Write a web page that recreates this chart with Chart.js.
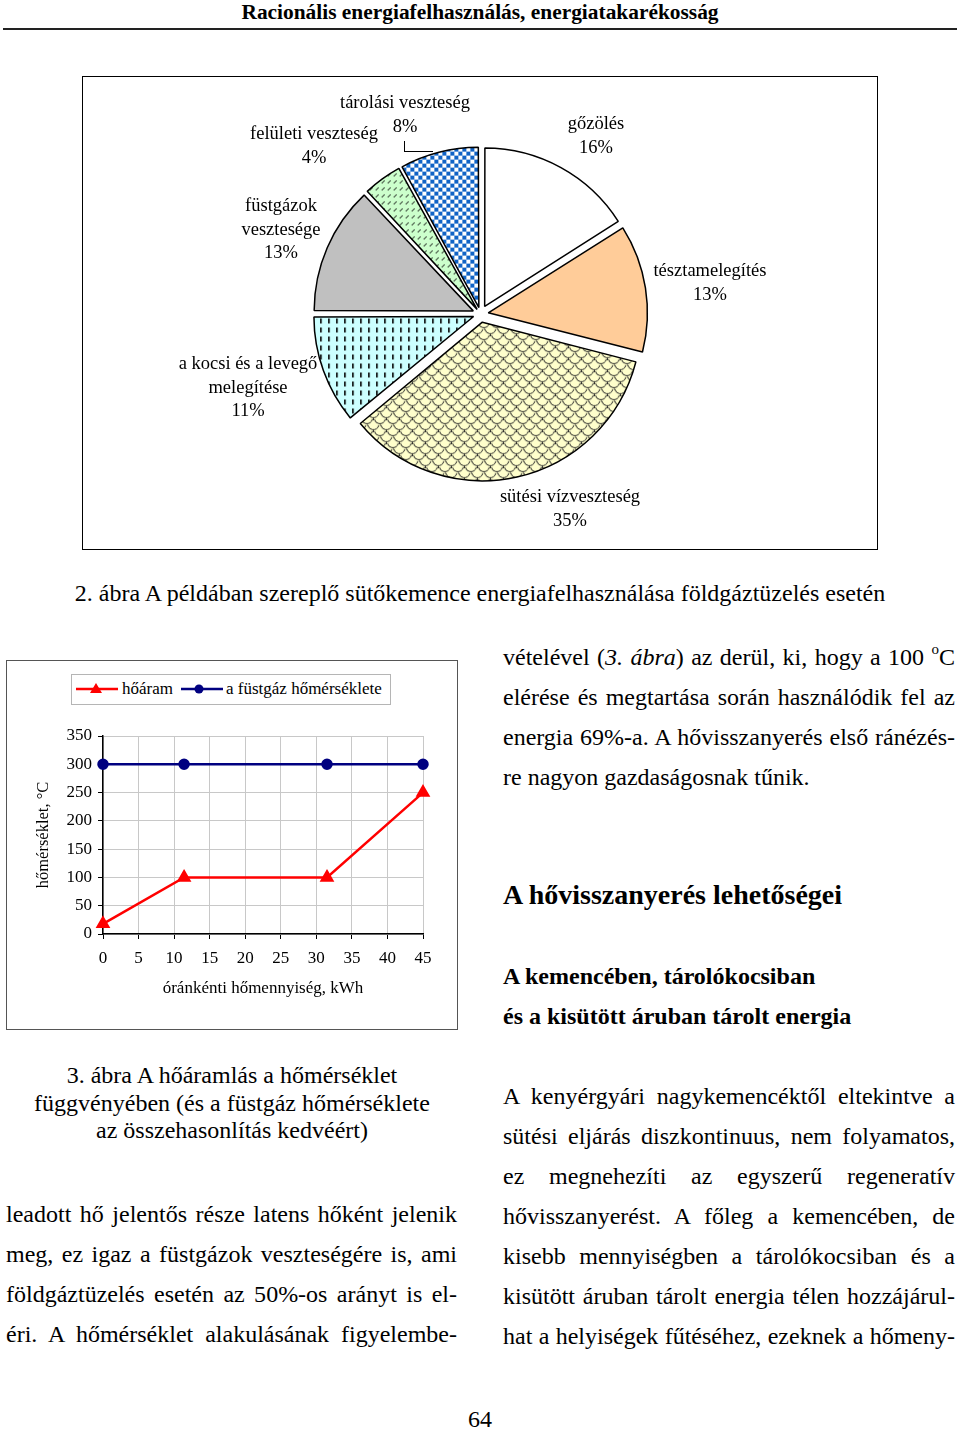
<!DOCTYPE html>
<html><head><meta charset="utf-8">
<script src="https://cdn.jsdelivr.net/npm/chart.js@4"></script>
<style>
html,body{margin:0;padding:0;background:#fff;}
body{width:960px;height:1430px;position:relative;overflow:hidden;font-family:'Liberation Serif','Times New Roman',serif;color:#000;}
.t{position:absolute;font-size:24px;line-height:24px;white-space:nowrap;}
.j{text-align:justify;text-align-last:justify;white-space:normal;}
.c{text-align:center;}
.pl{position:absolute;font-size:18.5px;line-height:23.5px;text-align:center;width:240px;white-space:nowrap;}
.b{font-weight:bold;}
sup{font-size:15px;line-height:0;position:relative;top:-2px;}
</style></head>
<body>
<div class="t b c" style="left:0;width:960px;top:0;font-size:21.4px;">Racionális energiafelhasználás, energiatakarékosság</div>
<div style="position:absolute;left:3px;top:28px;width:954px;height:2px;background:#222;"></div>

<div style="position:absolute;left:82px;top:76px;width:794px;height:472px;border:1.5px solid #000;"></div>
<canvas id="pie" width="361" height="360" style="position:absolute;left:300px;top:134px;"></canvas>

<div class="pl" style="left:285px;top:91px;">tárolási veszteség<br>8%</div>
<div class="pl" style="left:194px;top:122px;">felületi veszteség<br>4%</div>
<div class="pl" style="left:476px;top:112px;">gőzölés<br>16%</div>
<div class="pl" style="left:161px;top:194px;">füstgázok<br>vesztesége<br>13%</div>
<div class="pl" style="left:590px;top:259px;">tésztamelegítés<br>13%</div>
<div class="pl" style="left:128px;top:352px;">a kocsi és a levegő<br>melegítése<br>11%</div>
<div class="pl" style="left:450px;top:485px;">sütési vízveszteség<br>35%</div>
<div style="position:absolute;left:404px;top:141px;width:28px;height:10px;border-left:1.5px solid #000;border-bottom:1.5px solid #000;"></div>

<div class="t c" style="left:0;width:960px;top:581px;">2. ábra A példában szereplő sütőkemence energiafelhasználása földgáztüzelés esetén</div>

<div style="position:absolute;left:6px;top:660px;width:450px;height:368px;border:1.5px solid #555;"></div>
<div style="position:absolute;left:71px;top:674px;width:318px;height:29px;border:1px solid #b5b5b5;"></div>
<svg style="position:absolute;left:71px;top:674px;" width="320" height="31">
<line x1="5" y1="15" x2="47" y2="15" stroke="#ff0000" stroke-width="2.5"/>
<polygon points="25,9 31,19 19,19" fill="#ff0000"/>
<line x1="110" y1="15" x2="152" y2="15" stroke="#000080" stroke-width="2.5"/>
<circle cx="128" cy="15" r="4.5" fill="#000080"/>
</svg>
<div class="t" style="left:122px;top:679px;font-size:17px;line-height:20px;">hőáram</div>
<div class="t" style="left:226px;top:679px;font-size:17px;line-height:20px;">a füstgáz hőmérséklete</div>
<canvas id="line" width="449" height="367" style="position:absolute;left:8px;top:662px;"></canvas>

<div class="t c" style="left:2px;width:460px;top:1062px;line-height:27.5px;">3. ábra A hőáramlás a hőmérséklet<br>függvényében (és a füstgáz hőmérséklete<br>az összehasonlítás kedvéért)</div>

<div class="t j" style="left:6px;width:451px;top:1202px;">leadott hő jelentős része latens hőként jelenik</div>
<div class="t j" style="left:6px;width:451px;top:1242px;">meg, ez igaz a füstgázok veszteségére is, ami</div>
<div class="t j" style="left:6px;width:451px;top:1282px;">földgáztüzelés esetén az 50%-os arányt is el-</div>
<div class="t j" style="left:6px;width:451px;top:1322px;">éri. A hőmérséklet alakulásának figyelembe-</div>

<div class="t j" style="left:503px;width:452px;top:645px;">vételével (<i>3. ábra</i>) az derül, ki, hogy a 100 <sup>o</sup>C</div>
<div class="t j" style="left:503px;width:452px;top:685px;">elérése és megtartása során használódik fel az</div>
<div class="t j" style="left:503px;width:452px;top:725px;">energia 69%-a. A hővisszanyerés első ránézés-</div>
<div class="t" style="left:503px;top:765px;">re nagyon gazdaságosnak tűnik.</div>

<div class="t b" style="left:503px;top:880px;font-size:28px;line-height:30px;">A hővisszanyerés lehetőségei</div>
<div class="t b" style="left:503px;top:964px;">A kemencében, tárolókocsiban</div>
<div class="t b" style="left:503px;top:1004px;">és a kisütött áruban tárolt energia</div>

<div class="t j" style="left:503px;width:452px;top:1084px;">A kenyérgyári nagykemencéktől eltekintve a</div>
<div class="t j" style="left:503px;width:452px;top:1124px;">sütési eljárás diszkontinuus, nem folyamatos,</div>
<div class="t j" style="left:503px;width:452px;top:1164px;">ez megnehezíti az egyszerű regeneratív</div>
<div class="t j" style="left:503px;width:452px;top:1204px;">hővisszanyerést. A főleg a kemencében, de</div>
<div class="t j" style="left:503px;width:452px;top:1244px;">kisebb mennyiségben a tárolókocsiban és a</div>
<div class="t j" style="left:503px;width:452px;top:1284px;">kisütött áruban tárolt energia télen hozzájárul-</div>
<div class="t j" style="left:503px;width:452px;top:1324px;">hat a helyiségek fűtéséhez, ezeknek a hőmeny-</div>

<div class="t c" style="left:0;width:960px;top:1407px;">64</div>

<script>
// ---- data ----
const pieLabels = ['gőzölés','tésztamelegítés','sütési vízveszteség','a kocsi és a levegő melegítése','füstgázok vesztesége','felületi veszteség','tárolási veszteség'];
const pieValues = [16, 13, 35, 11, 13, 4, 8];

const heatX = [0, 11.4, 31.5, 45];
const heatFlow = [18, 100, 100, 250];
const fluegasTemp = [300, 300, 300, 300];
const seriesNames = ['hőáram', 'a füstgáz hőmérséklete'];
const xTicks = [0,5,10,15,20,25,30,35,40,45];
const yTicks = [0,50,100,150,200,250,300,350];

// ---- patterns ----
function pat(w,h,draw){const c=document.createElement('canvas');c.width=w;c.height=h;const g=c.getContext('2d');draw(g);return g.createPattern(c,'repeat');}
const pScales = pat(13,12,g=>{g.fillStyle='#ffffcc';g.fillRect(0,0,13,12);g.strokeStyle='#222';g.lineWidth=1;
  g.beginPath();g.arc(6.5,6,5.5,0.2,Math.PI-0.2);g.stroke();
  g.beginPath();g.arc(0,0,5.5,0.2,Math.PI-0.2);g.stroke();
  g.beginPath();g.arc(13,0,5.5,0.2,Math.PI-0.2);g.stroke();
  g.beginPath();g.moveTo(6.5,0);g.lineTo(6.5,2);g.stroke();
  g.beginPath();g.moveTo(0,6);g.lineTo(0,8);g.stroke();});
const pDash = pat(8,9,g=>{g.fillStyle='#ccffff';g.fillRect(0,0,8,9);g.fillStyle='#000';g.fillRect(3,2,1.6,5);});
const pDiag = pat(6,7,g=>{g.fillStyle='#ccffcc';g.fillRect(0,0,6,7);g.strokeStyle='#000';g.lineWidth=1;g.beginPath();g.moveTo(1,5);g.lineTo(4,2);g.stroke();});
const pCheck = pat(8,8,g=>{g.fillStyle='#fff';g.fillRect(0,0,8,8);g.fillStyle='#1063c6';g.fillRect(0,0,4,4);g.fillRect(4,4,4,4);});
const pieFills = ['#ffffff','#ffcc99',pScales,pDash,'#c0c0c0',pDiag,pCheck];

// Chart.js arc draws offset/4 plus an extra amount for narrow slices; compensate so every slice moves ~10px
const explode = 10;
const pieTotal = pieValues.reduce((a,b)=>a+b,0);
const pieOffsets = pieValues.map(v=>{const circ=v/pieTotal*2*Math.PI;const fix=1-Math.sin(Math.min(Math.PI,circ));return 4*explode/(1+fix);});

new Chart(document.getElementById('pie'),{
  type:'pie',
  data:{labels:pieLabels,datasets:[{data:pieValues,backgroundColor:pieFills,borderColor:'#000',borderWidth:1.5,offset:pieOffsets,hoverOffset:0}]},
  options:{responsive:false,animation:false,devicePixelRatio:1,radius:157,layout:{padding:0},
    plugins:{legend:{display:false},tooltip:{enabled:false}},events:[]}
});

const font={family:"'Liberation Serif','Times New Roman',serif",size:17};
const tfont={family:"'Liberation Serif','Times New Roman',serif",size:16.5};
new Chart(document.getElementById('line'),{
  type:'line',
  data:{datasets:[
    {label:seriesNames[0],data:heatX.map((x,i)=>({x,y:heatFlow[i]})),borderColor:'#ff0000',backgroundColor:'#ff0000',borderWidth:2.5,pointStyle:'triangle',pointRadius:6,tension:0,clip:false},
    {label:seriesNames[1],data:heatX.map((x,i)=>({x,y:fluegasTemp[i]})),borderColor:'#000080',backgroundColor:'#000080',borderWidth:2.5,pointStyle:'circle',pointRadius:4.5,tension:0,clip:false}
  ]},
  options:{responsive:false,animation:false,devicePixelRatio:1,events:[],
    layout:{padding:{left:22,top:74,right:34,bottom:26}},
    plugins:{legend:{display:false},tooltip:{enabled:false}},
    scales:{
      x:{type:'linear',min:0,max:45,
        afterBuildTicks:s=>{s.ticks=xTicks.map(v=>({value:v}));},
        afterFit:s=>{s.height=69;},
        ticks:{font,color:'#000',padding:9,maxRotation:0,autoSkip:false},
        grid:{color:'#c8c8c8',lineWidth:1,tickColor:'#000',tickLength:5},
        border:{color:'#000',width:1.5},
        title:{display:true,text:'óránkénti hőmennyiség, kWh',font,color:'#000',padding:{top:4,bottom:4}}},
      y:{min:0,max:350,
        afterBuildTicks:s=>{s.ticks=yTicks.map(v=>({value:v}));},
        afterFit:s=>{s.width=73;},
        ticks:{font,color:'#000',padding:6,autoSkip:false},
        grid:{color:'#c8c8c8',lineWidth:1,tickColor:'#000',tickLength:5},
        border:{color:'#000',width:1.5},
        title:{display:true,text:'hőmérséklet, °C',font:tfont,color:'#000',padding:{top:4,bottom:4}}}
    }}
});
</script>
</body></html>
